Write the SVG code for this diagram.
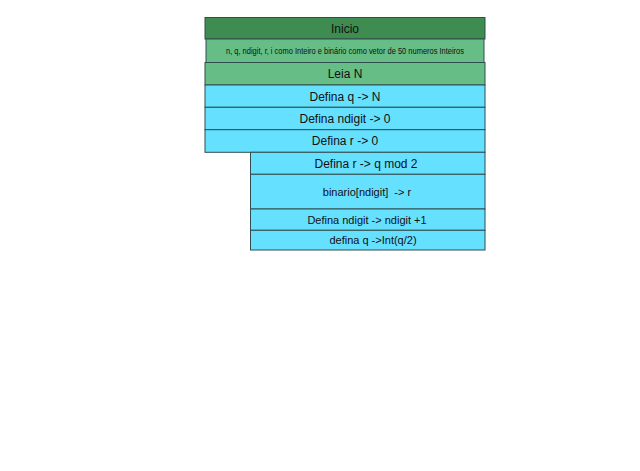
<svg xmlns="http://www.w3.org/2000/svg" width="640" height="471" viewBox="0 0 640 471">
<style>
.b{stroke:#2f4f4f;stroke-width:1}
.dg{fill:#3e8c50}
.mg{fill:#66bd85}
.cy{fill:#66e0ff}
text{font-family:"Liberation Sans",Arial,sans-serif;fill:#111;text-anchor:middle}
.t{font-size:12px}
.s{font-size:8.8px}
.m{font-size:11px}
</style>
<rect width="640" height="471" fill="#fff"/>
<g id="inicio"><rect class="b dg" x="205" y="17.5" width="280" height="21.5"/><text class="t" x="345" y="32.5">Inicio</text></g>
<g id="declaracao"><rect class="b mg" x="206" y="39" width="278" height="23.5"/><text class="s" x="345" y="54" textLength="238" lengthAdjust="spacingAndGlyphs">n, q, ndigit, r, i como Inteiro e binário como vetor de 50 numeros Inteiros</text></g>
<g id="leia"><rect class="b mg" x="205" y="62.5" width="280" height="22.5"/><text class="t" x="345" y="78">Leia N</text></g>
<g id="q"><rect class="b cy" x="205" y="85" width="280" height="22.3"/><text class="t" x="345" y="100.5">Defina q -&gt; N</text></g>
<g id="ndigit"><rect class="b cy" x="205" y="107.3" width="280" height="22.4"/><text class="t" x="345" y="122.8">Defina ndigit -&gt; 0</text></g>
<g id="r"><rect class="b cy" x="205" y="129.7" width="280" height="22.6"/><text class="t" x="345" y="145.3">Defina r -&gt; 0</text></g>
<g id="mod"><rect class="b cy" x="250.5" y="152.3" width="234.5" height="22"/><text class="t" x="366" y="167.5">Defina r -&gt; q mod 2</text></g>
<g id="binario"><rect class="b cy" x="250.5" y="174.3" width="234.5" height="34.7"/><text class="m" x="367" y="195.5">binario[ndigit]&#160; -&gt; r</text></g>
<g id="inc"><rect class="b cy" x="250.5" y="209" width="234.5" height="21.3"/><text class="m" x="367" y="223.5">Defina ndigit -&gt; ndigit +1</text></g>
<g id="div"><rect class="b cy" x="250.5" y="230.3" width="234.5" height="19.7"/><text class="m" x="373" y="244">defina q -&gt;Int(q/2)</text></g>
<g id="connectors"></g>
</svg>
